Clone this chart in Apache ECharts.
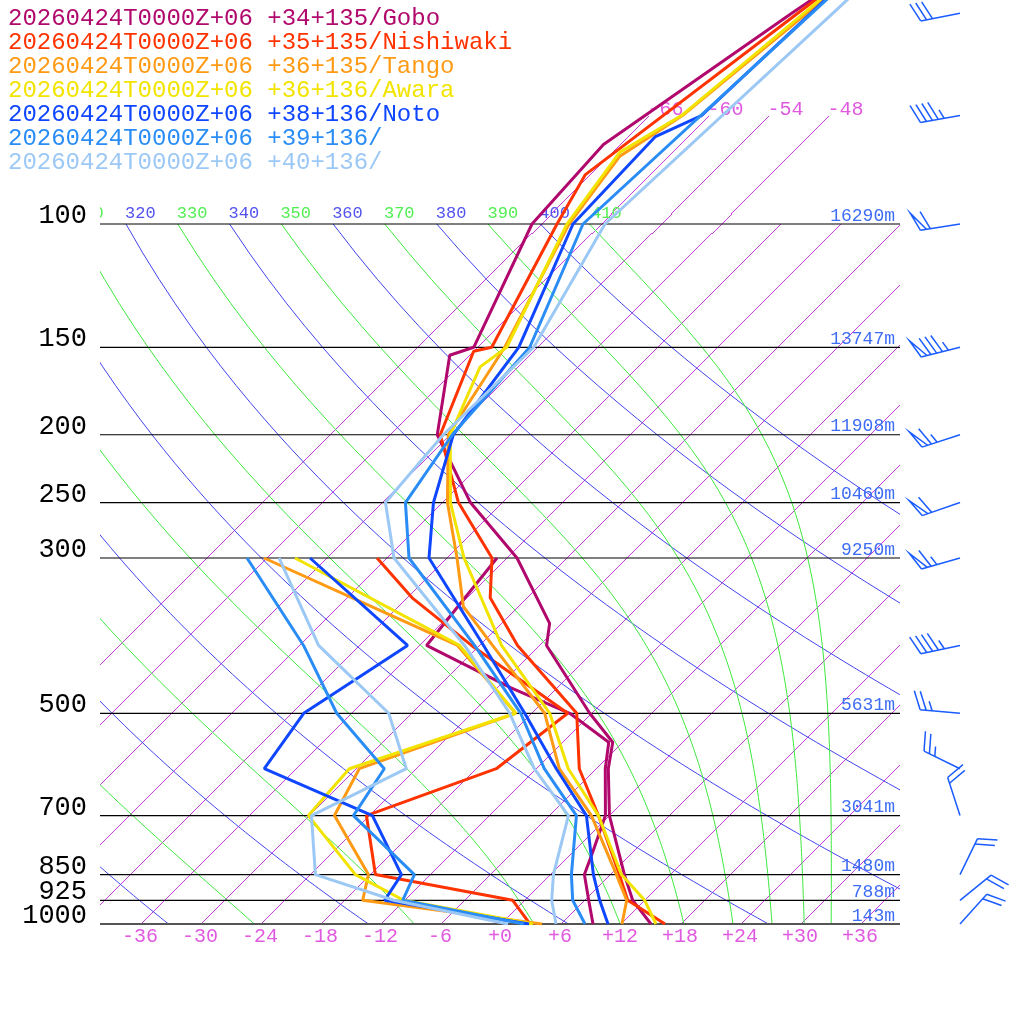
<!DOCTYPE html>
<html><head><meta charset="utf-8">
<script src="https://cdn.jsdelivr.net/npm/echarts@6/dist/echarts.min.js"></script>
<style>html,body{margin:0;padding:0;background:#fff}#chart{width:1024px;height:1024px}</style>
</head><body><div id="chart"></div>
<script>
// ---------------- data ----------------
const stationNames = [
  '20260424T0000Z+06 +34+135/Gobo',
  '20260424T0000Z+06 +35+135/Nishiwaki',
  '20260424T0000Z+06 +36+135/Tango',
  '20260424T0000Z+06 +36+136/Awara',
  '20260424T0000Z+06 +38+136/Noto',
  '20260424T0000Z+06 +39+136/',
  '20260424T0000Z+06 +40+136/'
];
const stationColors = ['#b0086c', '#ff3300', '#ff9a14', '#f2e400', '#0f46ff', '#2a8cf5', '#9cc8f5'];

const goboTP  = [1000, 925, 850, 700, 600, 550, 500, 400, 372, 300, 250, 200, 154, 150, 100, 77, 50, 30];
const goboT   = [15.1, 10.9, 7.5, 0.1, -4.7, -6.9, -12.1, -23.2, -25.1, -34.9, -45.1, -55.2, -61.9, -60.3, -66.8, -67.6, -61.9, -54.6];
const goboDP  = [1000, 925, 850, 790, 700, 600, 550, 500, 460, 400, 300];
const goboTd  = [9.3, 6.5, 3.5, 2.1, -0.3, -5.0, -7.3, -14.1, -22.5, -35.2, -36.9];

const nishiTP = [1000, 925, 850, 700, 600, 500, 400, 342, 300, 250, 200, 152, 150, 100, 85, 50, 30];
const nishiT  = [16.5, 10.4, 7.0, -1.0, -7.6, -13.4, -26.1, -33.6, -37.4, -46.3, -54.9, -59.9, -58.5, -64.3, -66.4, -61.3, -56.4];
const nishiDP = [1000, 925, 850, 700, 600, 500, 400, 342, 300];
const nishiTd = [3.0, -1.1, -17.4, -24.2, -15.9, -14.3, -30.7, -41.4, -48.9];

const tangoTP = [1000, 925, 850, 700, 600, 500, 400, 352, 300, 250, 200, 150, 100, 80, 70, 50, 30];
const tangoT  = [12.2, 10.3, 6.7, -1.7, -9.6, -16.6, -28.6, -35.4, -40.9, -47.4, -54.1, -57.2, -63.1, -64.8, -62.6, -60.4, -57.0];
const tangoDP = [1000, 925, 850, 700, 600, 500, 400, 360, 300];
const tangoTd = [4.2, -16.1, -18.1, -27.4, -29.6, -19.5, -32.1, -42.4, -60.2];

const awaraTP = [1000, 925, 850, 700, 600, 500, 400, 300, 250, 200, 160, 150, 100, 79, 70, 50, 30];
const awaraT  = [15.6, 12.1, 7.2, -1.0, -8.7, -16.1, -27.7, -40.2, -47.1, -53.9, -57.7, -57.0, -63.3, -65.2, -62.7, -60.7, -57.6];
const awaraDP = [1000, 925, 850, 700, 600, 500, 400, 300];
const awaraTd = [3.3, -12.0, -19.4, -30.0, -30.6, -19.5, -31.9, -57.1];

const notoTP  = [1000, 925, 850, 700, 600, 500, 400, 300, 250, 200, 150, 100, 75, 70, 50, 30];
const notoT   = [10.8, 7.6, 4.4, -2.2, -9.9, -18.6, -29.5, -43.7, -48.8, -53.6, -55.8, -62.7, -63.2, -60.7, -60.0, -58.9];
const notoDP  = [1000, 925, 850, 700, 600, 500, 400, 300];
const notoTd  = [2.9, -13.9, -14.8, -23.6, -39.1, -40.7, -37.1, -55.6];

const p39TP   = [1000, 925, 850, 700, 600, 500, 400, 300, 250, 200, 150, 100, 50, 30];
const p39T    = [8.5, 4.9, 2.2, -3.2, -11.1, -19.0, -30.4, -45.7, -51.6, -53.7, -54.7, -61.7, -59.9, -58.5];
const p39DP   = [1000, 925, 850, 700, 600, 500, 400, 300];
const p39Td   = [2.4, -12.1, -13.5, -25.5, -27.1, -37.4, -47.5, -61.9];

const p40TP   = [1000, 925, 850, 700, 600, 500, 400, 300, 250, 200, 150, 100, 50, 30];
const p40T    = [5.6, 2.8, 0.4, -4.0, -12.1, -20.1, -31.4, -47.2, -53.6, -54.6, -54.3, -59.5, -57.8, -56.6];
const p40DP   = [1000, 925, 850, 700, 600, 500, 400, 300];
const p40Td   = [0.8, -13.0, -23.4, -29.7, -24.9, -32.2, -46.0, -58.7];

const levelLabels  = [100, 150, 200, 250, 300, 500, 700, 850, 925, 1000];
const levelHeights = ['16290m', '13747m', '11908m', '10460m', '9250m', '5631m', '3041m', '1480m', '788m', '143m'];
const tempTicks    = [-36, -30, -24, -18, -12, -6, 0, 6, 12, 18, 24, 30, 36];
const isothermValues = [-66, -60, -54, -48, -42, -36, -30, -24, -18, -12, -6, 0, 6, 12, 18, 24, 30, 36];
const isothermLabelValues = [-66, -60, -54, -48];
const thetaLabelValues = [310, 320, 330, 340, 350, 360, 370, 380, 390, 400, 410];
const dryThetas   = [240, 260, 280, 300, 320, 340, 360, 380, 400];
const moistThetas = [250, 270, 290, 310, 330, 350, 370, 390, 410];

const windP   = [1000, 925, 850, 700, 600, 500, 400, 300, 250, 200, 150, 100, 70, 50];
const windDir = [42, 51, 26, 342, 296, 275, 258, 254, 251, 252, 256, 261, 260, 259];
const windSpd = [20, 20, 20, 20, 25, 25, 45, 65, 60, 65, 85, 60, 45, 30];

// ---------------- diagram constants ----------------
const SKEW = 70;          // skew of isotherms (deg per decade of pressure)
const P_TOP = 47.86, P_BOT = 1000;
const T_MIN = -40, T_MAX = 40;
const BARB_X = 46;        // column for wind barbs (temperature-axis units)
const KAPPA = 0.2857;
const ISO_LABEL_P = 70;
const THETA_LABEL_P = 100;
const ISO_COLOR = '#c83cdc';
const DRY_COLOR = '#4444ee';
const MOIST_COLOR = '#3ee83e';

const skewX = (t, p) => t + SKEW * Math.log10(1000 / p);

const curveP = [];
for (let p = 1000; p >= 100; p -= 10) curveP.push(p);

function dryT(theta, p) { return theta * Math.pow(p / 1000, KAPPA) - 273.15; }
function thetaE(tk, p) {
  const tc = tk - 273.15;
  const es = 6.112 * Math.exp(17.67 * tc / (tc + 243.5));
  if (es > 0.5 * p) return 1e9;
  const rs = 0.622 * es / (p - es);
  const th = tk * Math.pow(1000 / p, KAPPA);
  return th * Math.exp(1.08 * 2.5e6 * rs / (1004 * tk));
}
function moistT(te, p) {
  let lo = 120, hi = 340;
  for (let i = 0; i < 60; i++) {
    const mid = (lo + hi) / 2;
    if (thetaE(mid, p) > te) hi = mid; else lo = mid;
  }
  return (lo + hi) / 2 - 273.15;
}

const dryCurves = dryThetas.map(th => curveP.map(p => [skewX(dryT(th, p), p), p]));
const moistCurves = moistThetas.map(th => curveP.map(p => [skewX(moistT(th, p), p), p]));
const isoCurves = isothermValues.map(t => {
  const pTop = t <= -48 ? ISO_LABEL_P : 100;
  return [[skewX(t, 1000), 1000], [skewX(t, pTop), pTop]];
});

// crisp 1px rasterisation of a straight pixel segment into a path of unit squares
function rasterPath(pts) {
  let d = '';
  for (let s = 0; s < pts.length - 1; s++) {
    const a = pts[s], b = pts[s + 1];
    const n = Math.max(1, Math.ceil(Math.max(Math.abs(b[0] - a[0]), Math.abs(b[1] - a[1]))));
    for (let k = 0; k <= n; k++) {
      const t = k / n;
      const x = Math.round(a[0] + (b[0] - a[0]) * t), y = Math.round(a[1] + (b[1] - a[1]) * t);
      if (x < -5 || x > 1030 || y < -5 || y > 1030) continue;
      d += 'M' + x + ' ' + y + 'h1v1h-1z';
    }
  }
  return d || 'M0 0';
}

function crispSeries(curves, color, z) {
  return {
    type: 'custom', silent: true, clip: true, z: z, animation: false,
    itemStyle: { color: color },
    data: curves.map((c, i) => [0, 500, i]),
    encode: { x: 0, y: 1 },
    renderItem: (params, api) => {
      const pts = curves[params.dataIndex].map(pt => api.coord(pt));
      return { type: 'path', silent: true, shape: { pathData: rasterPath(pts) },
        style: { fill: color, stroke: null, lineWidth: 0 } };
    }
  };
}
function curveSeries(curves, color, width, z) {
  return {
    type: 'custom', silent: true, clip: true, z: z, animation: false,
    itemStyle: { color: color },
    data: curves.map((c, i) => [0, 500, i]),
    encode: { x: 0, y: 1 },
    renderItem: (params, api) => {
      const pts = curves[params.dataIndex].map(pt => api.coord(pt));
      return { type: 'polyline', silent: true, shape: { points: pts },
        style: { stroke: color, lineWidth: width, fill: 'none', opacity: 1 } };
    }
  };
}
function gridLine(data, color, width, z) {
  return { type: 'line', data: data, showSymbol: false, symbol: 'none', silent: true, clip: true, z: z,
    animation: false, lineStyle: { color: color, width: width }, itemStyle: { color: color },
    emphasis: { disabled: true } };
}
const isobarSeries = levelLabels.map(p => gridLine([[T_MIN, p], [0, p], [T_MAX, p]], p === 1000 ? '#555555' : '#000000', p === 1000 ? 2 : 1.2, 2));

function textSeries(items, z, clip) {
  return {
    type: 'custom', silent: true, clip: clip, z: z, animation: false,
    data: items.map((it, i) => [0, 500, i]),
    encode: { x: 0, y: 1 },
    renderItem: (params, api) => {
      const it = items[params.dataIndex];
      const c = api.coord([it.x, it.p]);
      return { type: 'text', silent: true, x: c[0] + it.dx, y: c[1] + it.dy,
        style: { text: it.text, fill: it.color, fontSize: it.size, fontFamily: 'Liberation Mono',
                 align: it.align, verticalAlign: 'middle' } };
    }
  };
}

const yLabelItems = levelLabels.map(p => ({ x: T_MIN, p: p, text: String(p), color: '#000', size: 27, align: 'right', dx: -13, dy: -8 }));
const heightItems = levelLabels.map((p, i) => ({ x: T_MAX, p: p, text: levelHeights[i], color: '#3d6cf5', size: 18, align: 'right', dx: -5, dy: -8 }));
const isoLabelItems = isothermLabelValues.map(t => ({ x: skewX(t, ISO_LABEL_P), p: ISO_LABEL_P, text: String(t), color: '#e05ae0', size: 20, align: 'left', dx: -1, dy: -6 }));
const thetaItems = thetaLabelValues.map(th => ({ x: skewX(dryT(th, THETA_LABEL_P), THETA_LABEL_P), p: THETA_LABEL_P, text: String(th),
  color: (th / 10) % 2 === 0 ? '#5252ee' : '#52ee52', size: 17, align: 'left', dx: -1, dy: -11 }));

const stationData = [
  [goboTP, goboT, goboDP, goboTd],
  [nishiTP, nishiT, nishiDP, nishiTd],
  [tangoTP, tangoT, tangoDP, tangoTd],
  [awaraTP, awaraT, awaraDP, awaraTd],
  [notoTP, notoT, notoDP, notoTd],
  [p39TP, p39T, p39DP, p39Td],
  [p40TP, p40T, p40DP, p40Td]
];

const profileSeries = [];
stationData.forEach((d, i) => {
  [[d[0], d[1]], [d[2], d[3]]].forEach(([ps, ts]) => {
    profileSeries.push({
      type: 'line', name: stationNames[i], z: 4, clip: true, silent: true, animation: false,
      showSymbol: false, symbol: 'none',
      data: ps.map((p, k) => [skewX(ts[k], p), p]),
      lineStyle: { color: stationColors[i], width: 3 },
      itemStyle: { color: stationColors[i] }
    });
  });
});

const barbSeries = {
  type: 'custom', silent: true, clip: false, z: 6, animation: false,
  data: windP.map((p, i) => [BARB_X, p, windDir[i], windSpd[i]]),
  encode: { x: 0, y: 1 },
  renderItem: (params, api) => {
    const s = api.coord([api.value(0), api.value(1)]);
    const dir = api.value(2) * Math.PI / 180;
    let rest = Math.round(api.value(3) / 5) * 5;
    const ux = Math.sin(dir), uy = -Math.cos(dir);
    const a = 68 * Math.PI / 180;
    const fx = ux * Math.cos(a) - uy * Math.sin(a), fy = ux * Math.sin(a) + uy * Math.cos(a);
    const L = 40, FL = 20, SP = 6;
    const tx = s[0] + L * ux, ty = s[1] + L * uy;
    const st = { stroke: '#1a5cff', lineWidth: 1.5, fill: 'none' };
    const ch = [{ type: 'line', shape: { x1: s[0], y1: s[1], x2: tx, y2: ty }, style: st }];
    let pos = 0;
    const at = d => [tx - d * ux, ty - d * uy];
    while (rest >= 50) {
      const b = at(pos), e = at(pos + SP);
      ch.push({ type: 'polyline', shape: { points: [b, [b[0] + FL * fx, b[1] + FL * fy], e] }, style: st });
      pos += SP + 4; rest -= 50;
    }
    while (rest >= 10) {
      const b = at(pos);
      ch.push({ type: 'line', shape: { x1: b[0], y1: b[1], x2: b[0] + FL * fx, y2: b[1] + FL * fy }, style: st });
      pos += SP; rest -= 10;
    }
    if (rest >= 5) {
      const b = at(pos);
      ch.push({ type: 'line', shape: { x1: b[0], y1: b[1], x2: b[0] + FL / 2 * fx, y2: b[1] + FL / 2 * fy }, style: st });
    }
    return { type: 'group', children: ch };
  }
};

const chart = echarts.init(document.getElementById('chart'), null, { renderer: 'canvas' });
chart.setOption({
  animation: false,
  backgroundColor: '#ffffff',
  textStyle: { fontFamily: 'Liberation Mono' },
  legend: {
    show: true, orient: 'vertical', left: 3, top: 7, itemGap: 0, itemWidth: 0, itemHeight: 0,
    icon: 'none', selectedMode: false, padding: 0,
    textStyle: { fontFamily: 'Liberation Mono', fontSize: 24, lineHeight: 24 },
    data: stationNames.map((n, i) => ({ name: n, icon: 'none', textStyle: { color: stationColors[i] } }))
  },
  grid: { left: 100, top: 0, width: 800, height: 924, containLabel: false, outerBoundsMode: 'none' },
  xAxis: {
    type: 'value', min: T_MIN, max: T_MAX,
    axisLine: { show: false }, axisTick: { show: false }, splitLine: { show: false },
    axisLabel: { customValues: tempTicks, formatter: v => (v >= 0 ? '+' : '') + v,
      color: '#e05ae0', fontSize: 20, fontFamily: 'Liberation Mono', margin: 3 }
  },
  yAxis: {
    type: 'log', logBase: 10, inverse: true, min: P_TOP, max: P_BOT,
    axisLine: { show: false }, axisTick: { show: false }, splitLine: { show: false }, axisLabel: { show: false }
  },
  series: [
    crispSeries(isoCurves, ISO_COLOR, 1),
    curveSeries(dryCurves, DRY_COLOR, 1, 1),
    curveSeries(moistCurves, MOIST_COLOR, 1, 1),
    ...isobarSeries,
    textSeries(thetaItems, 3, true),
    textSeries(isoLabelItems, 3, false),
    textSeries(heightItems, 3, false),
    textSeries(yLabelItems, 3, false),
    ...profileSeries,
    barbSeries
  ]
});
</script>
</body></html>
